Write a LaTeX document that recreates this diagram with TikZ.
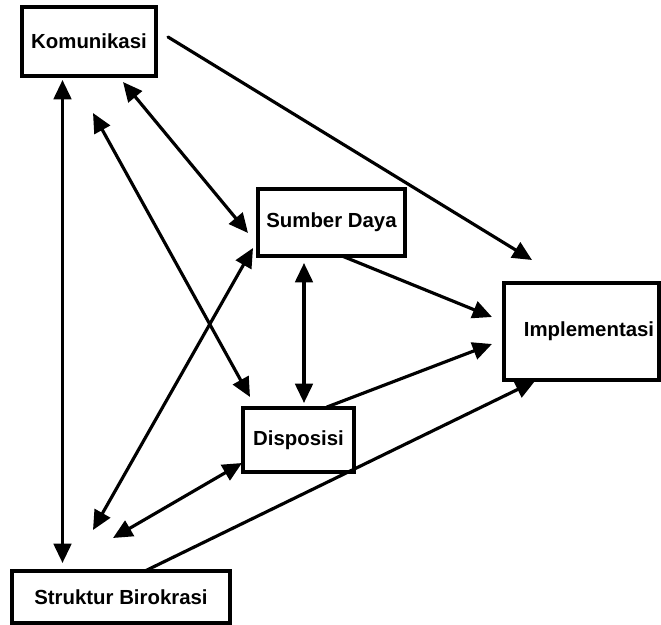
\documentclass[tikz,border=0pt]{standalone}
\usepackage{fontspec}
\usepackage{tkz-euclide}
\usetikzlibrary{arrows.meta}
\setmainfont{Liberation Sans}

\begin{document}
\begin{tikzpicture}[box/.style={draw, line width=1.9pt, inner sep=0pt,
        font=\bfseries\fontsize{11.6}{14}\selectfont},
    >={Triangle[length=11pt, width=10pt]}]
    \useasboundingbox (0,0) rectangle (13.22,12.5);
    \node[box, minimum width=2.68cm, minimum height=1.38cm] (Kom) at (1.78,11.67) {Komunikasi};
    \node[box, minimum width=2.94cm, minimum height=1.34cm] (SD) at (6.63,8.05) {Sumber Daya};
    \node[box, minimum width=3.10cm, minimum height=1.94cm] (Imp) at (11.63,5.87) {\hspace*{0.3cm}Implementasi};
    \node[box, minimum width=2.22cm, minimum height=1.28cm] (Dis) at (5.97,3.70) {Disposisi};
    \node[box, minimum width=4.36cm, minimum height=1.04cm] (SB) at (2.42,0.56) {Struktur Birokrasi};
    \tkzDefPoints{3.36/11.76/A, 10.64/7.30/B, 6.84/7.38/C, 9.84/6.16/E,
        6.54/4.36/F, 9.84/5.62/G, 2.90/1.08/H, 10.70/4.88/J}
    \tkzDefPoints{1.25/10.90/K, 1.25/1.24/L, 2.46/10.86/M, 4.96/7.84/N,
        1.86/10.24/P, 5.00/4.56/Q, 5.06/7.54/R, 1.86/1.90/S,
        4.84/3.24/T, 2.26/1.74/U, 6.08/7.24/V, 6.08/4.44/W}
    \tkzDrawSegments[->, line width=1.8pt, color=black](A,B C,E F,G H,J)
    \tkzDrawSegments[<->, line width=1.8pt, color=black](K,L M,N P,Q R,S T,U V,W)
\end{tikzpicture}
\end{document}
